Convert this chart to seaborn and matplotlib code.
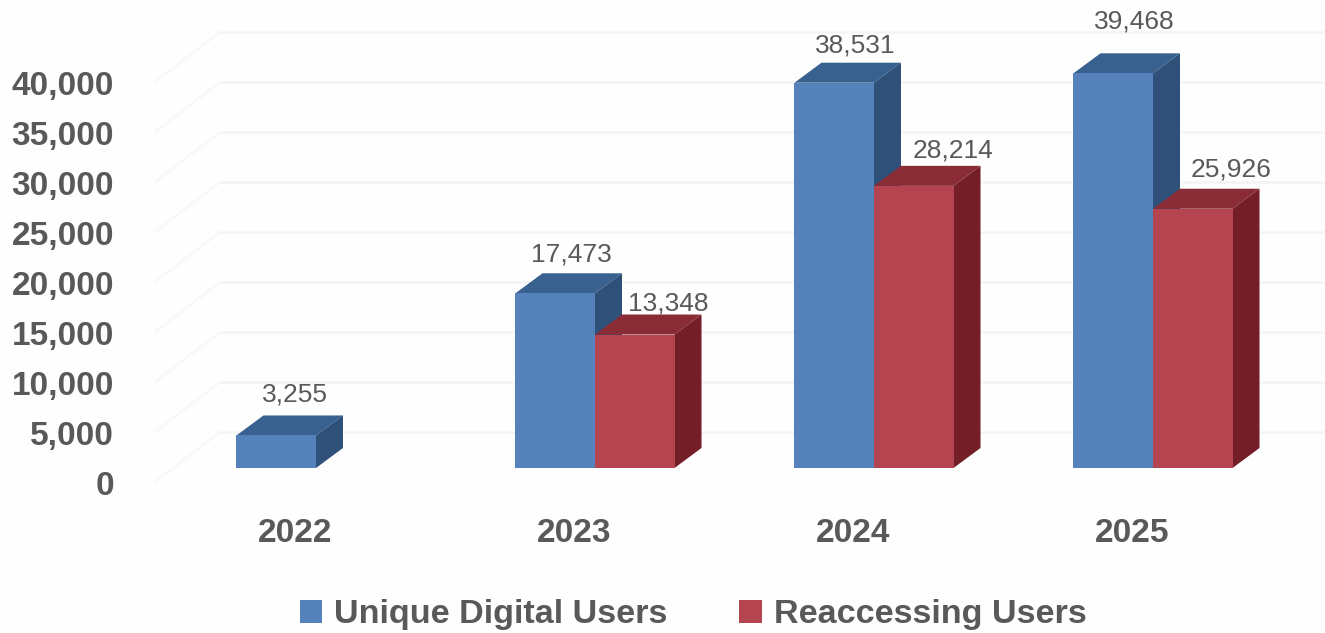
import numpy as np
import pandas as pd
import matplotlib
matplotlib.use('Agg')
import matplotlib.pyplot as plt
import seaborn as sns
from matplotlib.patches import Polygon

years = ['2022', '2023', '2024', '2025']
unique_users = [3255, 17473, 38531, 39468]
reaccess_users = [np.nan, 13348, 28214, 25926]
y_ticks = [0, 5000, 10000, 15000, 20000, 25000, 30000, 35000, 40000]
series_names = ['Unique Digital Users', 'Reaccessing Users']

# front, top, side shades of the fake 3D bars
blue = ['#5682BC', '#38618F', '#2F5079']
red = ['#B4444F', '#8A2C36', '#741F27']
text_col = '#595959'

# the picture is an old Excel 3D chart, so 1 px = 100 users, 1 category = 279 px
W, H = 1325, 633
left_px, bottom_px = 155, 490
cat_px = 279
px_per_val = 0.01
depth_x = 27 / cat_px
depth_y = 20 / px_per_val
front_shift = -1400   # tick labels sit on the front edge of the side wall
back_shift = 3600     # gridlines sit on the back wall

df = pd.DataFrame({
    'year': years * 2,
    'users': unique_users + reaccess_users,
    'series': [series_names[0]] * 4 + [series_names[1]] * 4,
})

sns.set_theme(style='white')
plt.rcParams['font.family'] = ['Liberation Sans', 'DejaVu Sans']

fig = plt.figure(figsize=(W / 100, H / 100), dpi=100, facecolor='#FEFEFE')
ax = fig.add_axes([left_px / W, (H - bottom_px) / H, (W - left_px) / W, bottom_px / H])
ax.patch.set_alpha(0)

sns.barplot(data=df, x='year', y='users', hue='series', hue_order=series_names,
            palette=[blue[0], red[0]], width=0.57, gap=0, saturation=1,
            linewidth=0, order=years, ax=ax)


def x_of(px):
    return (px - 316) / cat_px


ax.set_xlim(x_of(left_px), x_of(W))
ax.set_ylim(-(bottom_px - 468) / px_per_val, 468 / px_per_val)
sns.despine(ax=ax, left=True, bottom=True)
ax.set_xlabel('')
ax.set_ylabel('')

# back wall and side wall lines
for v in y_ticks:
    ax.plot([x_of(220), x_of(W)], [v + back_shift] * 2, color='#F4F4F4', lw=1.8, zorder=1)
    ax.plot([x_of(155), x_of(220)], [v + front_shift, v + back_shift], color='#F8F8F8', lw=1.8, zorder=1)

# label nudges in px from the top middle of each front face
nudges = [[(19, 41), (16, 39), (21, 37), (21, 52)],
          [None, (33, 31), (39, 35), (38, 39)]]

for s, cont in enumerate(ax.containers):
    shades = [blue, red][s]
    nudge = [n for n in nudges[s] if n is not None]
    bars = [b for b in cont.patches if np.isfinite(b.get_height()) and b.get_height() > 0]
    for b, (nx, ny) in zip(bars, nudge):
        x0, x1, h = b.get_x(), b.get_x() + b.get_width(), b.get_height()
        b.set_zorder(4)
        top = Polygon([(x0, h), (x1, h), (x1 + depth_x, h + depth_y), (x0 + depth_x, h + depth_y)],
                      facecolor=shades[1], edgecolor='none', zorder=2 + s)
        side = Polygon([(x1, 0), (x1 + depth_x, depth_y), (x1 + depth_x, h + depth_y), (x1, h)],
                       facecolor=shades[2], edgecolor='none', zorder=2 + s)
        ax.add_patch(top)
        ax.add_patch(side)
        ax.annotate(f'{int(h):,}', ((x0 + x1) / 2, h), xytext=(nx * 0.72, ny * 0.72),
                    textcoords='offset points', ha='center', va='center', fontsize=19,
                    color=text_col, zorder=6)

ax.set_yticks([v + front_shift - 100 for v in y_ticks], [f'{v:,}' for v in y_ticks])
ax.set_xticks(np.arange(len(years)) - 21 / cat_px, years)
ax.tick_params(axis='y', length=0, pad=41 * 0.72, labelsize=24, labelcolor=text_col)
ax.tick_params(axis='x', length=0, pad=20, labelsize=24, labelcolor=text_col)
for lab in ax.get_xticklabels() + ax.get_yticklabels():
    lab.set_fontweight('bold')

handles, labels = ax.get_legend_handles_labels()
ax.get_legend().remove()
leg = fig.legend(handles, labels, loc='center', bbox_to_anchor=(693 / W, 1 - 615 / H), ncol=2,
                 frameon=False, handlelength=0.66, handleheight=0.66,
                 handletextpad=0.35, columnspacing=2.1, labelcolor=text_col,
                 prop={'family': ['Liberation Sans Narrow', 'Liberation Sans'], 'weight': 'bold', 'size': 24.6})

fig.savefig('out.png', dpi=100, facecolor=fig.get_facecolor())
